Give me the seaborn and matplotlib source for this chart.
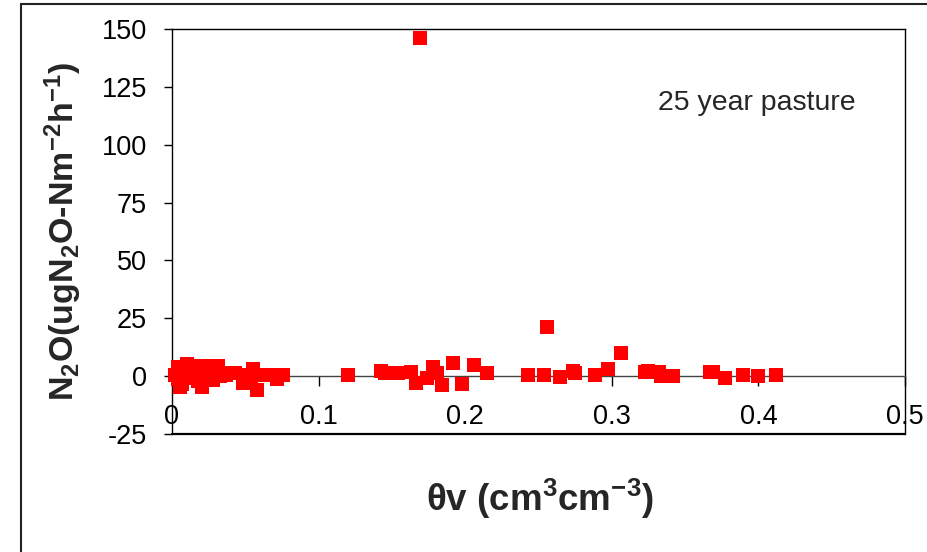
import pandas as pd
import matplotlib
matplotlib.use("Agg")
import matplotlib.pyplot as plt
import matplotlib.patches as patches
import seaborn as sns

# soil water content (cm3 cm-3) and N2O flux (ug N2O-N m-2 h-1)
theta_v = [0.002, 0.0043, 0.0043, 0.0055, 0.0067, 0.0089, 0.010, 0.0134, 0.0157, 0.018,
           0.019, 0.0203, 0.0237, 0.0248, 0.028, 0.028, 0.0316, 0.0327, 0.035, 0.0372,
           0.043, 0.0487, 0.049, 0.054, 0.0555, 0.0578, 0.0634, 0.0684, 0.0714, 0.076,
           0.1203, 0.1426, 0.1453, 0.1487, 0.1544, 0.163, 0.1662, 0.169, 0.1737, 0.1778,
           0.1805, 0.184, 0.1915, 0.1976, 0.2062, 0.215,
           0.2426, 0.2538, 0.256, 0.265, 0.2738, 0.275, 0.2888, 0.2974, 0.306, 0.3227,
           0.325, 0.3324, 0.3338, 0.342, 0.367, 0.3688, 0.3772, 0.3897, 0.3997, 0.412]
n2o_flux = [0.5, 3.9, -1.4, -4.9, -3.5, -0.7, 5.3, 1.5, 0.3, -2.1,
            4.3, -4.9, -1.4, 4.3, 2.5, -1.5, 4.3, 0.0, 1.5, 0.7,
            1.5, -2.8, 0.5, -0.5, 2.9, -5.8, 0.7, 0.7, -1.4, 0.7,
            0.7, 2.2, 1.2, 1.4, 1.4, 1.6, -2.9, 146.0, -0.7, 3.8,
            1.2, -3.9, 5.5, -3.2, 4.8, 1.4,
            0.7, 0.7, 21.3, -0.3, 2.2, 1.2, 0.7, 2.9, 10.1, 1.6,
            2.2, 1.6, 0.0, 0.0, 1.6, 1.6, -1.0, 0.7, 0.0, 0.7]

x_ticks = [0, 0.1, 0.2, 0.3, 0.4, 0.5]
x_tick_labels = ["0", "0.1", "0.2", "0.3", "0.4", "0.5"]
y_ticks = [-25, 0, 25, 50, 75, 100, 125, 150]

df = pd.DataFrame({"theta": theta_v, "n2o": n2o_flux})

sns.set_style("white")
plt.rcParams["font.family"] = ["Liberation Sans", "DejaVu Sans"]
plt.rcParams["axes.unicode_minus"] = False
plt.rcParams["mathtext.fontset"] = "custom"
plt.rcParams["mathtext.rm"] = "Liberation Sans"
plt.rcParams["mathtext.bf"] = "Liberation Sans:bold"
plt.rcParams["mathtext.default"] = "bf"

fig = plt.figure(figsize=(9.28, 5.52), dpi=100)
ax = fig.add_axes([0.1853, 0.2138, 0.7899, 0.7337])

sns.scatterplot(data=df, x="theta", y="n2o", marker="s", s=100, color="#ff0000",
                linewidth=0, ax=ax, zorder=3, clip_on=False)

ax.set_xlim(0, 0.5)
ax.set_ylim(-25, 150)
ax.set_xticks(x_ticks)
ax.set_xticklabels(x_tick_labels)
ax.set_yticks(y_ticks)

# x axis crosses at zero, like the spreadsheet original
ax.spines["bottom"].set_position(("data", 0))
for side in ["left", "right", "top", "bottom"]:
    ax.spines[side].set_visible(True)
    ax.spines[side].set_color("black")
    ax.spines[side].set_linewidth(1.0)
ax.spines["bottom"].set_color("#444444")
ax.axhline(-25, color="black", lw=1.6, clip_on=False)

ax.tick_params(axis="x", direction="out", length=7, width=1, pad=13,
               labelsize=19.5, bottom=True, colors="black")
ax.tick_params(axis="y", direction="out", length=6, width=1, pad=12,
               labelsize=19.5, left=True, colors="black")

ax.set_xlabel(r"θv (cm$^{3}$cm$^{-3}$)", fontsize=26.5, fontweight="bold")
ax.set_ylabel(r"N$_{2}$O(ugN$_{2}$O-Nm$^{-2}$h$^{-1}$)", fontsize=24.5, fontweight="bold")
ax.xaxis.set_label_coords(0.502, -0.105)
ax.yaxis.set_label_coords(-0.12, 0.5)

ax.text(0.3315, 118, "25 year pasture", fontsize=20.5, va="center", ha="left")

# outer frame of the original chart area
frame = patches.Rectangle((21 / 928, -0.2), 1.2, 0.2 + (1 - 4 / 552),
                          transform=fig.transFigure, fill=False,
                          edgecolor="#222222", lw=1.5)
fig.patches.append(frame)

fig.savefig("out.png", dpi=100)
